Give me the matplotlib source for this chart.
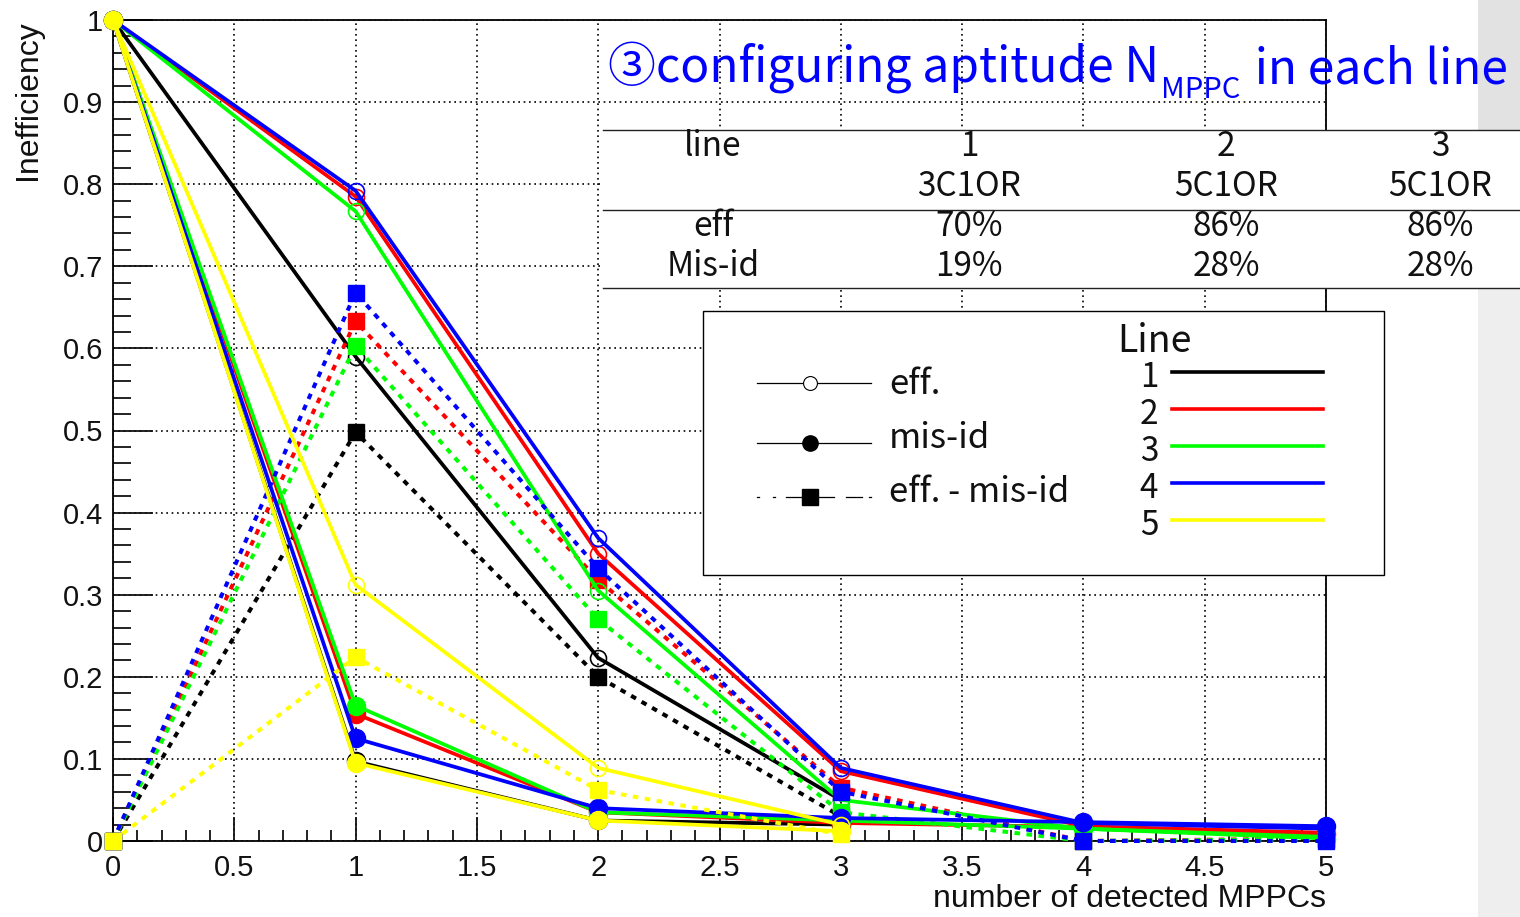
import numpy as np
import matplotlib
matplotlib.use("Agg")
import matplotlib.pyplot as plt
from matplotlib.transforms import Affine2D
from matplotlib.lines import Line2D
from matplotlib.patches import Rectangle

# ---------------- data ----------------
n_mppc = [0, 1, 2, 3, 4, 5]

line_names = ["1", "2", "3", "4", "5"]
line_colors = ["#000000", "#ff0000", "#00ff00", "#0000ff", "#ffff00"]

# line 1 (3C1OR) and line 5 are measured up to 3 MPPCs
eff_line1 = [1.0, 0.590, 0.223, 0.050]
misid_line1 = [1.0, 0.097, 0.025, 0.020]
diff_line1 = [0.0, 0.498, 0.200, 0.030]

eff_line2 = [1.0, 0.785, 0.350, 0.085, 0.018, 0.010]
misid_line2 = [1.0, 0.155, 0.035, 0.022, 0.017, 0.008]
diff_line2 = [0.0, 0.633, 0.318, 0.065, 0.000, 0.003]

eff_line3 = [1.0, 0.767, 0.305, 0.050, 0.015, 0.005]
misid_line3 = [1.0, 0.165, 0.035, 0.025, 0.015, 0.003]
diff_line3 = [0.0, 0.603, 0.270, 0.035, 0.000, 0.002]

eff_line4 = [1.0, 0.792, 0.369, 0.089, 0.022, 0.015]
misid_line4 = [1.0, 0.125, 0.040, 0.028, 0.023, 0.018]
diff_line4 = [0.0, 0.668, 0.332, 0.060, 0.000, 0.000]

eff_line5 = [1.0, 0.312, 0.089, 0.020]
misid_line5 = [1.0, 0.095, 0.025, 0.012]
diff_line5 = [0.0, 0.224, 0.062, 0.008]

eff_all = [eff_line1, eff_line2, eff_line3, eff_line4, eff_line5]
misid_all = [misid_line1, misid_line2, misid_line3, misid_line4, misid_line5]
diff_all = [diff_line1, diff_line2, diff_line3, diff_line4, diff_line5]

x_ticks = [0, 0.5, 1, 1.5, 2, 2.5, 3, 3.5, 4, 4.5, 5]
x_tick_labels = ["0", "0.5", "1", "1.5", "2", "2.5", "3", "3.5", "4", "4.5", "5"]
y_ticks = [0, 0.1, 0.2, 0.3, 0.4, 0.5, 0.6, 0.7, 0.8, 0.9, 1.0]
y_tick_labels = ["0", "0.1", "0.2", "0.3", "0.4", "0.5", "0.6", "0.7", "0.8", "0.9", "1"]

table_header = ["line", "1", "2", "3"]
table_trigger = ["", "3C1OR", "5C1OR", "5C1OR"]
table_eff = ["eff", "70%", "86%", "86%"]
table_misid = ["Mis-id", "19%", "28%", "28%"]

title_main = "③configuring aptitude N"
title_sub = "MPPC"
title_tail = " in each line"

# ---------------- figure ----------------
W, H = 1520, 917
fig = plt.figure(figsize=(W / 100, H / 100), dpi=100)
fig.patch.set_facecolor("white")
# pixel coordinates measured from the top-left corner
px = Affine2D().scale(1 / W, -1 / H).translate(0, 1) + fig.transFigure

JP = ["Noto Sans CJK JP", "DejaVu Sans"]
HELV = "Liberation Sans"

ax = fig.add_axes([113 / W, 1 - 841 / H, (1326 - 113) / W, (841 - 20) / H])
ax.set_xlim(0, 5)
ax.set_ylim(0, 1)
ax.set_xticks(x_ticks)
ax.set_xticklabels(x_tick_labels, fontfamily=HELV)
ax.set_xticks(np.arange(0, 5.001, 0.1), minor=True)
ax.set_yticks(y_ticks)
ax.set_yticklabels(y_tick_labels, fontfamily=HELV)
ax.set_yticks(np.arange(0, 1.0001, 0.02), minor=True)
ax.tick_params(axis="y", which="major", direction="in", length=29, width=1.3,
               labelsize=21, pad=7, colors="#111111")
ax.tick_params(axis="y", which="minor", direction="in", length=13, width=1.3,
               colors="#111111")
ax.tick_params(axis="x", which="major", direction="in", length=17, width=1.3,
               labelsize=21, pad=9, colors="#111111")
ax.tick_params(axis="x", which="minor", direction="in", length=8, width=1.3,
               colors="#111111")
ax.grid(True, which="major", linestyle=(0, (1, 2.2)), color="black", lw=1.2)
ax.set_axisbelow(True)
for sp in ax.spines.values():
    sp.set_linewidth(1.3)

ax.set_xlabel("number of detected MPPCs", fontsize=23, fontfamily=HELV,
              loc="right", color="#111111")
ax.xaxis.set_label_coords(1.0, -0.052)
ax.set_ylabel("Inefficiency", fontsize=23, fontfamily=HELV, loc="top",
              color="#111111")
ax.yaxis.set_label_coords(-0.058, 1.0)

for eff, mis, dif, col in zip(eff_all, misid_all, diff_all, line_colors):
    xs = n_mppc[:len(eff)]
    ax.plot(xs, eff, color=col, lw=2.7, marker="o", ms=11.5, mfc="none",
            mec=col, mew=1.2, clip_on=False, zorder=3)
    ax.plot(xs, mis, color=col, lw=2.7, marker="o", ms=13, mfc=col,
            mec=col, clip_on=False, zorder=3)
    ax.plot(xs, dif, color=col, lw=2.9, linestyle=(0, (1.4, 1.6)), marker="s",
            ms=11, mfc=col, mec=col, clip_on=False, zorder=3)

# ---------------- side strip ----------------
fig.add_artist(Rectangle((1478, 0), 42, 130, transform=px, facecolor="#e2e2e2",
                         edgecolor="none", zorder=0.5))
fig.add_artist(Rectangle((1478, 288), 42, 629, transform=px, facecolor="#eeeeee",
                         edgecolor="none", zorder=0.5))

# ---------------- title ----------------
renderer = fig.canvas.get_renderer()
t_main = fig.text(608, 83, title_main, transform=px, fontsize=34.5, color="#0000ff",
                  family=JP, ha="left", va="baseline", zorder=5)
bb = t_main.get_window_extent(renderer)
t_sub = fig.text(bb.x1 + 2, 98, title_sub, transform=px, fontsize=21,
                 color="#0000ff", family=JP, ha="left", va="baseline", zorder=5)
bb2 = t_sub.get_window_extent(renderer)
fig.text(bb2.x1 + 4, 83, title_tail, transform=px, fontsize=34.5, color="#0000ff",
         family=JP, ha="left", va="baseline", zorder=5)

# ---------------- table ----------------
fig.add_artist(Rectangle((603, 130), 917, 158, transform=px, facecolor="white",
                         edgecolor="none", zorder=1))
for yy in (130, 210, 288):
    fig.add_artist(Line2D([603, 1520], [yy, yy], transform=px, color="#222222",
                          lw=1.0, zorder=2))
col_x = [713, 969, 1226, 1440]
for row, yy in zip([table_header, table_trigger, table_eff, table_misid],
                   [147, 186, 226, 266]):
    for txt, xx in zip(row, col_x):
        fig.text(xx, yy, txt, transform=px, fontsize=24, family=JP,
                 ha="center", va="center", color="#111111", zorder=4)

# ---------------- legend ----------------
fig.add_artist(Rectangle((703, 311), 681, 264, transform=px, facecolor="white",
                         edgecolor="black", lw=1.0, zorder=1))
fig.add_artist(Line2D([757, 871], [383, 383], transform=px, color="black",
                      lw=0.9, zorder=2))
fig.add_artist(Line2D([810], [383], transform=px, marker="o", ms=10, mfc="white",
                      mec="black", mew=0.8, zorder=2))
fig.add_artist(Line2D([757, 871], [443, 443], transform=px, color="black",
                      lw=0.9, zorder=2))
fig.add_artist(Line2D([810], [443], transform=px, marker="o", ms=11, mfc="black",
                      mec="black", zorder=2))
for x0, x1 in [(757, 759), (773, 775), (786, 834), (846, 862), (869, 871)]:
    fig.add_artist(Line2D([x0, x1], [497, 497], transform=px, color="black",
                          lw=0.9, zorder=2))
fig.add_artist(Line2D([810], [497], transform=px, marker="s", ms=11, mfc="black",
                      mec="black", zorder=2))
for txt, yy in [("eff.", 385), ("mis-id", 438), ("eff. - mis-id", 493)]:
    fig.text(889, yy, txt, transform=px, fontsize=25, family=JP, ha="left",
             va="center", color="#111111", zorder=4)
fig.text(1117, 352, "Line", transform=px, fontsize=27, family=JP, ha="left",
         va="baseline", color="#111111", zorder=4)
for name, col, yy in zip(line_names, line_colors, [375, 412, 449, 486, 523]):
    fig.text(1149, yy + 12, name, transform=px, fontsize=24, family=JP,
             ha="center", va="baseline", color="#111111", zorder=4)
    fig.add_artist(Line2D([1172, 1323], [yy - 3, yy - 3], transform=px,
                          color=col, lw=2.6, zorder=2))

fig.savefig("out.png", dpi=100)
